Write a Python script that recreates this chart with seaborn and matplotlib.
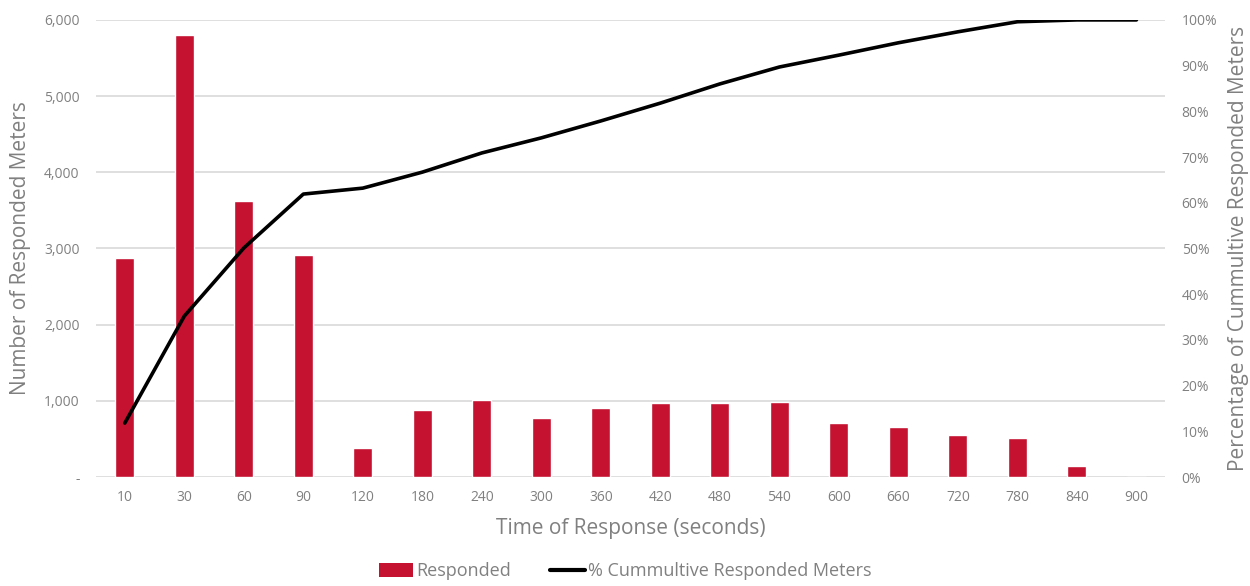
import numpy as np
import pandas as pd
import seaborn as sns
import matplotlib.pyplot as plt
from matplotlib.ticker import FuncFormatter, PercentFormatter
from matplotlib.lines import Line2D
from matplotlib.patches import Patch

# Response time buckets (seconds)
times = ["10", "30", "60", "90", "120", "180", "240", "300", "360", "420",
         "480", "540", "600", "660", "720", "780", "840", "900"]
# Meters responding within each bucket
responded = [2870, 5800, 3620, 2910, 380, 880, 1010, 770, 900, 970,
             970, 985, 705, 660, 547, 508, 148, 0]
# Cumulative share of responded meters (%)
cumulative_pct = [11.8, 35.2, 50.1, 61.9, 63.2, 66.7, 70.9, 74.2, 77.9, 81.8,
                  86.0, 89.7, 92.3, 95.0, 97.4, 99.6, 100.0, 100.0]

df = pd.DataFrame({"time": times, "responded": responded, "cum": cumulative_pct})
df["pos"] = np.arange(len(df))

sns.set_theme(style="white")
plt.rcParams["font.family"] = ["Open Sans", "DejaVu Sans"]

TXT = "#808080"
BAR = "#C41230"

fig = plt.figure(figsize=(12.5, 5.86), dpi=100)
ax = fig.add_axes([0.077, 0.186, 0.855, 0.780])

sns.barplot(data=df, x="time", y="responded", color=BAR, width=0.32,
            saturation=1, ax=ax, zorder=2)
ax.set_ylim(0, 6000)
ax.set_yticks(range(0, 6001, 1000))
ax.yaxis.set_major_formatter(FuncFormatter(lambda v, _: "-" if v == 0 else f"{int(v):,}"))
ax.grid(axis="y", color="#d9d9d9", linewidth=1.2, zorder=0)
ax.set_axisbelow(True)
for s in ax.spines.values():
    s.set_visible(False)
ax.tick_params(axis="both", length=0, colors=TXT, labelsize=10, pad=12)
ax.tick_params(axis="x", pad=9)
ax.set_xlabel("Time of Response (seconds)", color=TXT, fontsize=15, labelpad=10)
ax.set_ylabel("Number of Responded Meters", color=TXT, fontsize=15, labelpad=9)
ax.set_xlim(-0.48, len(df) - 0.52)

ax2 = ax.twinx()
sns.lineplot(data=df, x="pos", y="cum", color="black", linewidth=2.6, ax=ax2,
             zorder=3)
ax2.set_ylim(0, 100)
ax2.set_yticks(range(0, 101, 10))
ax2.yaxis.set_major_formatter(PercentFormatter(decimals=0))
for s in ax2.spines.values():
    s.set_visible(False)
ax2.tick_params(axis="y", length=0, colors=TXT, labelsize=10, pad=12)
ax2.set_ylabel("Percentage of Cummultive Responded Meters", color=TXT,
               fontsize=15, labelpad=8)
ax2.grid(False)
ax2.set_xlim(ax.get_xlim())

handles = [Patch(facecolor=BAR, edgecolor="none"),
           Line2D([0], [0], color="black", linewidth=3)]
fig.legend(handles, ["Responded", "% Cummultive Responded Meters"],
           loc="lower center", bbox_to_anchor=(0.5, -0.018), ncol=2, frameon=False,
           fontsize=13, labelcolor=TXT, handlelength=1.9, handleheight=0.8,
           handletextpad=0.15, columnspacing=2.2)

fig.savefig("out.png", dpi=100)
